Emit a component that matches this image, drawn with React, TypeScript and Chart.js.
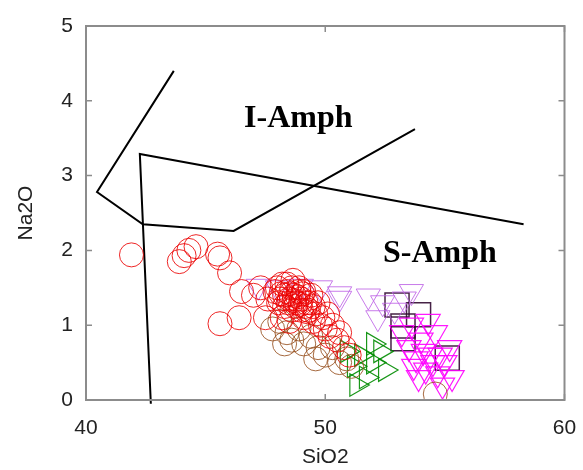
import { useEffect, useRef } from "react";
import { Chart, registerables } from "chart.js";
Chart.register(...registerables);

const xTickValues = [40, 50, 60];
const yTickValues = [0, 1, 2, 3, 4, 5];
const xTitle = "SiO2";
const yTitle = "Na2O";

const redX = [41.9, 43.9, 44.1, 44.3, 44.6, 45.5, 45.6, 46.0, 46.5, 45.6, 46.4, 47.0, 47.3, 47.6, 47.9, 47.5,
  48.0, 48.1, 48.2, 48.3, 48.4, 48.5, 48.6, 48.6, 48.7, 48.8, 48.9, 49.0, 49.0, 49.1, 49.2, 49.3, 49.4, 49.5, 49.5,
  49.6, 49.7, 49.8, 49.9, 50.0, 50.1, 50.2, 50.3, 50.5, 50.6, 50.8, 51.0, 48.2, 48.5,
  48.3, 48.45, 48.55, 48.7, 48.75, 48.85, 48.95, 49.05, 49.15, 49.25, 49.35, 48.4, 48.65, 48.9, 49.1, 48.15, 48.05];
const redY = [1.94, 1.85, 1.93, 2.0, 2.05, 1.95, 1.9, 1.7, 1.45, 1.02, 1.1, 1.4, 1.5, 1.35, 1.45, 1.1,
  1.5, 1.35, 1.55, 1.25, 1.45, 1.35, 1.5, 1.2, 1.4, 1.3, 1.45, 1.2, 1.35, 1.1, 1.3, 1.2, 1.4, 1.05, 1.25,
  1.15, 1.3, 1.0, 1.1, 0.95, 1.15, 0.85, 1.0, 0.8, 0.9, 0.7, 0.6, 1.1, 1.05,
  1.4, 1.3, 1.42, 1.33, 1.25, 1.38, 1.28, 1.42, 1.25, 1.18, 1.3, 1.55, 1.6, 1.5, 1.45, 1.42, 1.3];

const brownX = [47.8, 48.1, 48.4, 48.6, 48.9, 49.1, 49.4, 49.7, 50.0, 50.3, 50.6, 50.9, 51.1, 48.3, 49.6, 54.6];
const brownY = [0.95, 1.05, 0.9, 0.8, 0.95, 0.75, 0.85, 0.7, 0.6, 0.7, 0.5, 0.55, 0.45, 0.75, 0.55, 0.08];

const greenX = [50.9, 51.2, 51.5, 51.7, 52.0, 52.3, 52.5, 51.3, 52.0];
const greenY = [0.65, 0.45, 0.6, 0.3, 0.5, 0.65, 0.4, 0.2, 0.75];

const violetX = [47.2, 48.0, 49.0, 49.8, 50.6, 50.6, 51.8, 52.4, 52.9, 53.3, 52.2, 53.6];
const violetY = [1.52, 1.5, 1.52, 1.5, 1.36, 1.42, 1.39, 1.3, 1.2, 1.35, 1.1, 1.45];

const magentaX = [53.2, 53.5, 53.8, 54.0, 54.2, 54.4, 54.7, 55.0, 55.2, 54.6, 53.9, 55.3, 54.9, 53.6, 54.3, 53.7, 54.1, 54.5, 54.8];
const magentaY = [0.9, 0.7, 0.55, 0.8, 0.4, 0.6, 0.35, 0.5, 0.7, 0.9, 0.3, 0.3, 0.2, 1.0, 1.05, 0.45, 0.65, 0.5, 0.6];

const squareX = [53.0, 53.9, 53.25, 53.25, 55.1];
const squareY = [1.27, 1.14, 0.99, 0.82, 0.56];

const boundaryAX = [43.67, 40.46, 42.375, 46.17, 53.75];
const boundaryAY = [4.4, 2.78, 2.35, 2.26, 3.62];
const boundaryBX = [42.71, 42.25, 58.29];
const boundaryBY = [-0.05, 3.29, 2.35];

const labelText = ["I-Amph", "S-Amph"];
const labelX = [48.875, 54.79];
const labelY = [3.65, 1.845];

const zip = (xs: number[], ys: number[]) => xs.map((x, i) => ({ x, y: ys[i] }));

const framePlugin = {
  id: "frameAndLabels",
  afterDatasetsDraw(chart: any) {
    const { ctx, chartArea, scales } = chart;
    const { left, right, top, bottom } = chartArea;
    ctx.save();
    ctx.strokeStyle = "#8c8c8c";
    ctx.lineWidth = 2;
    ctx.strokeRect(left, top, right - left, bottom - top);
    ctx.lineWidth = 1.5;
    const tl = 6;
    ctx.beginPath();
    yTickValues.forEach((v) => {
      const py = scales.y.getPixelForValue(v);
      ctx.moveTo(left, py);
      ctx.lineTo(left + tl, py);
      ctx.moveTo(right, py);
      ctx.lineTo(right - tl, py);
    });
    xTickValues.forEach((v) => {
      const px = scales.x.getPixelForValue(v);
      ctx.moveTo(px, bottom);
      ctx.lineTo(px, bottom - tl);
      ctx.moveTo(px, top);
      ctx.lineTo(px, top + tl);
    });
    ctx.stroke();
    ctx.fillStyle = "#000";
    ctx.font = "bold 32px 'Liberation Serif', 'Times New Roman', serif";
    ctx.textAlign = "center";
    ctx.textBaseline = "alphabetic";
    labelText.forEach((t, i) => {
      ctx.fillText(t, scales.x.getPixelForValue(labelX[i]), scales.y.getPixelForValue(labelY[i]));
    });
    ctx.restore();
  },
};

export default function App() {
  const ref = useRef<HTMLCanvasElement | null>(null);
  useEffect(() => {
    if (!ref.current) return;
    const font = { family: "'Liberation Sans', Arial, sans-serif", size: 21 };
    const chart = new Chart(ref.current, {
      type: "scatter",
      data: {
        datasets: [
          { data: zip(redX, redY), pointStyle: "circle", pointRadius: 12, borderColor: "rgba(235,0,0,0.85)", backgroundColor: "rgba(0,0,0,0)", borderWidth: 1 },
          { data: zip(brownX, brownY), pointStyle: "circle", pointRadius: 12, borderColor: "rgba(150,80,30,0.85)", backgroundColor: "rgba(0,0,0,0)", borderWidth: 1 },
          { data: zip(greenX, greenY), pointStyle: "triangle", rotation: 90, pointRadius: 13, borderColor: "rgba(0,140,0,0.9)", backgroundColor: "rgba(0,0,0,0)", borderWidth: 1.2 },
          { data: zip(violetX, violetY), pointStyle: "triangle", rotation: 180, pointRadius: 14, borderColor: "rgba(190,100,230,0.85)", backgroundColor: "rgba(0,0,0,0)", borderWidth: 1 },
          { data: zip(magentaX, magentaY), pointStyle: "triangle", rotation: 180, pointRadius: 14, borderColor: "rgba(255,0,255,0.9)", backgroundColor: "rgba(0,0,0,0)", borderWidth: 1.2 },
          { data: zip(squareX, squareY), pointStyle: "rect", pointRadius: 17, borderColor: "rgba(50,10,50,0.9)", backgroundColor: "rgba(0,0,0,0)", borderWidth: 1.5 },
          { data: zip(boundaryAX, boundaryAY), showLine: true, pointRadius: 0, borderColor: "#000", borderWidth: 2, clip: false as any },
          { data: zip(boundaryBX, boundaryBY), showLine: true, pointRadius: 0, borderColor: "#000", borderWidth: 2, clip: false as any },
        ],
      },
      options: {
        animation: false,
        responsive: false,
        maintainAspectRatio: false,
        events: [],
        layout: { padding: { top: 26, right: 17, left: 0, bottom: 0 } },
        plugins: { legend: { display: false }, tooltip: { enabled: false } },
        scales: {
          x: {
            type: "linear",
            min: 40,
            max: 60,
            afterBuildTicks: (s: any) => { s.ticks = xTickValues.map((v) => ({ value: v })); },
            afterFit: (s: any) => { s.height = 70; s.paddingLeft = 0; s.paddingRight = 0; },
            grid: { display: false, drawTicks: false },
            border: { display: false },
            ticks: { font, color: "#222", padding: 16, maxRotation: 0 },
            title: { display: true, text: xTitle, font, color: "#222", padding: { top: 0, bottom: 0 } },
          },
          y: {
            type: "linear",
            min: 0,
            max: 5,
            afterBuildTicks: (s: any) => { s.ticks = yTickValues.map((v) => ({ value: v })); },
            afterFit: (s: any) => { s.width = 86; s.paddingTop = 0; s.paddingBottom = 0; },
            grid: { display: false, drawTicks: false },
            border: { display: false },
            ticks: { font, color: "#222", padding: 13 },
            title: { display: true, text: yTitle, font, color: "#222", padding: { top: 14, bottom: 0 } },
          },
        },
      },
      plugins: [framePlugin],
    } as any);
    return () => chart.destroy();
  }, []);
  return (
    <div style={{ position: "absolute", left: 0, top: 0, width: 583, height: 470, background: "#fff" }}>
      <canvas ref={ref} width={583} height={470} style={{ width: 583, height: 470 }} />
    </div>
  );
}
